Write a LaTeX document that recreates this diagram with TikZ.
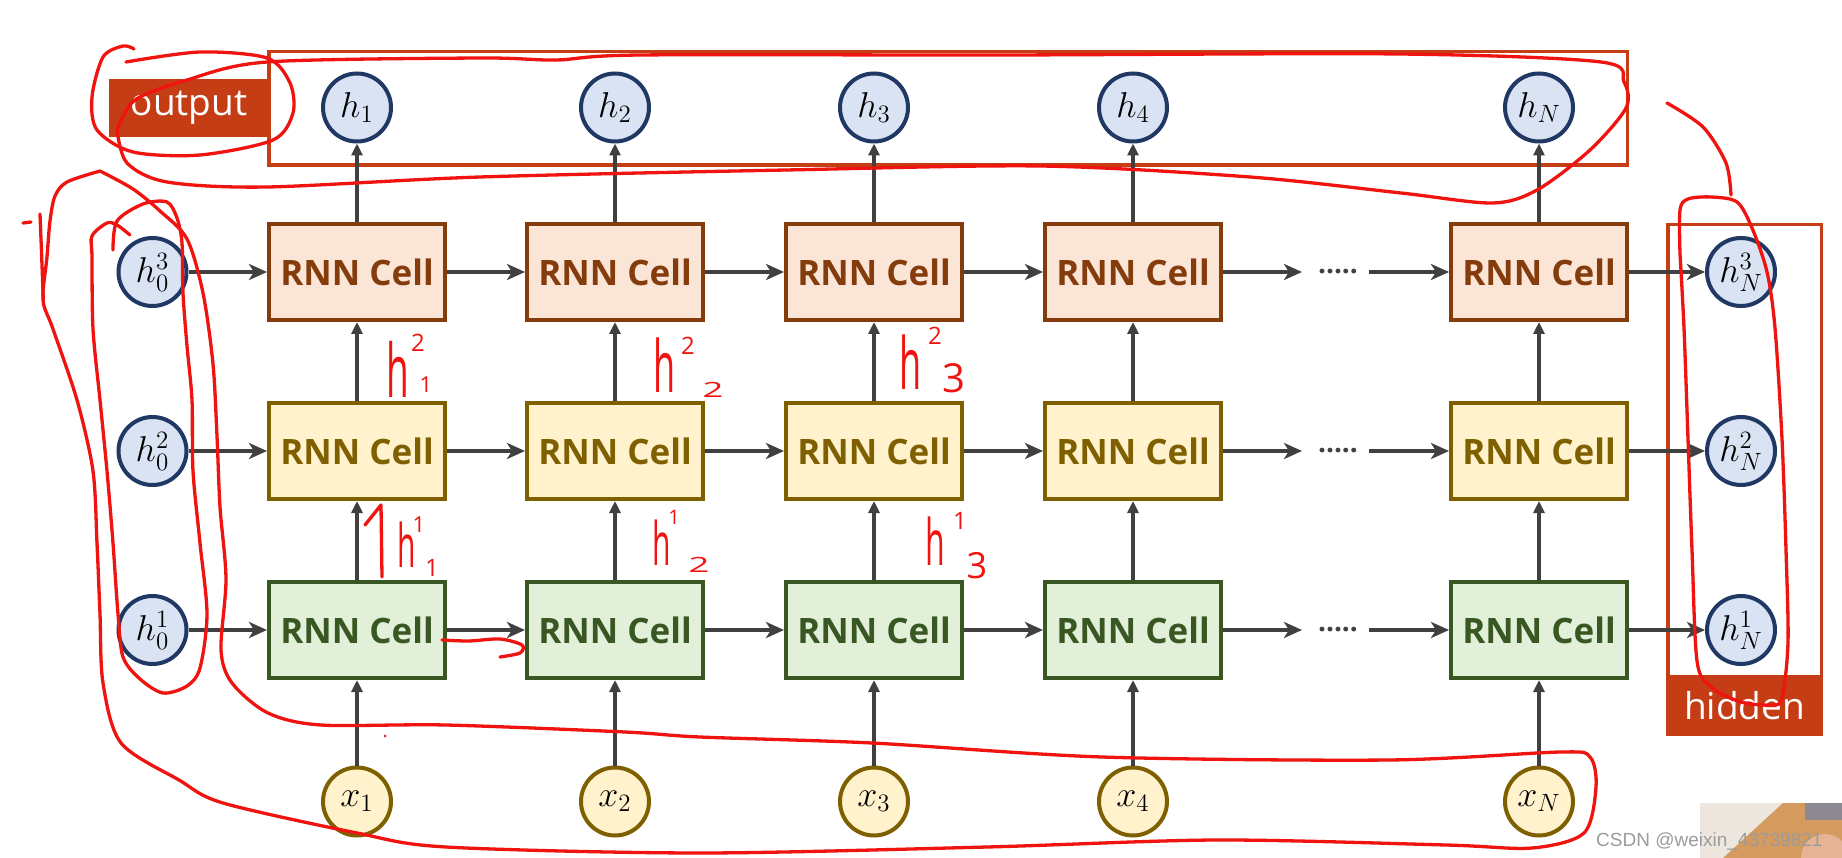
\documentclass[tikz,border=0pt]{standalone}
\usepackage{graphicx}
\usepackage{fontspec}
\setsansfont{Open Sans}
\newfontfamily\handfont{Open Sans}
\newfontfamily\wmfont{Liberation Sans}
\newcommand{\circlab}[1]{\scalebox{2.08}{\fontsize{17.28}{20}\selectfont$#1$}}
\usetikzlibrary{arrows.meta}
\definecolor{pinkfill}{HTML}{FBE5D6}
\definecolor{pinkdraw}{HTML}{843C0C}
\definecolor{yelfill}{HTML}{FFF2CC}
\definecolor{yeldraw}{HTML}{7F6000}
\definecolor{grnfill}{HTML}{E2F0D9}
\definecolor{grndraw}{HTML}{385723}
\definecolor{blufill}{HTML}{DAE3F3}
\definecolor{bludraw}{HTML}{203864}
\definecolor{arrowc}{HTML}{404040}
\definecolor{labelc}{HTML}{C43D15}
\definecolor{annot}{HTML}{F01410}
\definecolor{wmgray}{HTML}{9C9C9C}
\definecolor{photolight}{HTML}{ECE6DE}
\definecolor{phototan}{HTML}{D49A5E}
\definecolor{photodark}{HTML}{8C8A90}
\definecolor{photoskin}{HTML}{E6B494}
\begin{document}
\begin{tikzpicture}[x=1pt,y=-1pt,
  cell/.style={rectangle, minimum width=176pt, minimum height=96pt, line width=4pt,
    inner sep=0pt, font=\sffamily\bfseries\fontsize{35}{40}\selectfont},
  pinkcell/.style={cell, fill=pinkfill, draw=pinkdraw, text=pinkdraw},
  yelcell/.style={cell, fill=yelfill, draw=yeldraw, text=yeldraw},
  grncell/.style={cell, fill=grnfill, draw=grndraw, text=grndraw},
  hcirc/.style={circle, minimum size=68pt, inner sep=0pt, line width=4pt,
    fill=blufill, draw=bludraw},
  xcirc/.style={hcirc, fill=yelfill, draw=yeldraw},
  harr/.style={draw=arrowc, line width=4pt, -{Stealth[length=18pt,width=16pt,inset=5pt]}},
  varr/.style={draw=arrowc, line width=4pt, -{Triangle[length=12pt,width=11pt]}},
  framebox/.style={draw=labelc, line width=3.5pt, inner sep=0pt},
  labeltag/.style={fill=labelc, text=white, inner sep=0pt,
    font=\sffamily\fontsize{37}{40}\selectfont},
  dotsn/.style={text=arrowc, inner sep=0pt, font=\sffamily\bfseries\fontsize{28}{30}\selectfont},
  hw/.style={text=annot, inner sep=0pt, anchor=base},
  redline/.style={draw=annot, line width=3.3pt, line cap=round, line join=round}
]
\useasboundingbox (0,0) rectangle (1842,858);
\fill[white] (0,0) rectangle (1842,858);

% frames and tags
\node[framebox, minimum width=1358.5pt, minimum height=113.5pt] (outframe) at (948,108.5) {};
\node[labeltag, minimum width=160pt, minimum height=58pt] (outtag) at (189,108) {output};
\node[framebox, minimum width=153.5pt, minimum height=509.5pt] (hidframe) at (1744.5,479.5) {};
\node[labeltag, minimum width=157pt, minimum height=61pt] (hidtag) at (1744.5,705.5) {hidden};

% cells
\foreach \c/\x in {1/357,2/615,3/874,4/1133,5/1539} {
  \node[pinkcell] (p\c) at (\x,272) {RNN Cell};
  \node[yelcell] (y\c) at (\x,451) {RNN Cell};
  \node[grncell] (g\c) at (\x,630) {RNN Cell};
}

% top / bottom circles and vertical arrows
\foreach \c/\x/\l in {1/357/1,2/615/2,3/874/3,4/1133/4,5/1539/N} {
  \node[hcirc] (h\c) at (\x,107.5) {\circlab{h_{\l}}};
  \node[xcirc] (x\c) at (\x,801.5) {\circlab{x_{\l}}};
  \draw[varr] (x\c) -- (g\c);
  \draw[varr] (g\c) -- (y\c);
  \draw[varr] (y\c) -- (p\c);
  \draw[varr] (p\c) -- (h\c);
}

% side circles and horizontal arrows
\foreach \r/\y/\rn in {3/272/p,2/451/y,1/630/g} {
  \node[hcirc] (a\r) at (152.5,\y) {\circlab{h_0^{\r}}};
  \node[hcirc] (b\r) at (1741,\y) {\circlab{h_N^{\r}}};
  \coordinate (da\r) at (1302,\y);
  \node[dotsn] (dots\r) at (1338,\y) {.....};
  \coordinate (db\r) at (1369,\y);
  \draw[harr] (a\r) -- (\rn1);
  \draw[harr] (\rn1) -- (\rn2);
  \draw[harr] (\rn2) -- (\rn3);
  \draw[harr] (\rn3) -- (\rn4);
  \draw[harr] (\rn4) -- (da\r);
  \draw[harr] (db\r) -- (\rn5);
  \draw[harr] (\rn5) -- (b\r);
}

% photo corner and watermark
\fill[photolight] (1700,803) rectangle (1842,858);
\fill[phototan] (1723,858) -- (1783,803) -- (1842,803) -- (1842,858) -- cycle;
\fill[photodark] (1805,803) rectangle (1842,820);
\fill[photoskin] (1825,858) circle[radius=24pt];
\node[text=wmgray, inner sep=0pt, anchor=base west, font=\wmfont\fontsize{19}{22}\selectfont]
  (wm) at (1596,846) {CSDN @weixin\_43739821};

% red annotations: loops
\draw[redline] plot[smooth] coordinates {(126,62) (200,52) (267,58) (290,83) (293,113) (273,140)
  (200,155) (133,152) (97,130) (92,97) (103,57) (123,46) (134,49)};
\draw[redline] plot[smooth] coordinates {(117,130) (135,100) (187,80) (267,62) (480,58) (556,60)
  (640,55) (1000,55) (1400,54) (1601,62) (1624,82) (1626,108) (1590,150) (1537,190) (1492,203)
  (1401,193) (1250,177) (1041,166) (786,170) (480,177) (267,187) (167,182) (127,163) (117,130)};
\draw[redline] plot[smooth] coordinates {(113,250) (117,221) (143,204) (167,202) (177,218) (182,243)
  (183,293) (187,346) (192,400) (193,471) (200,543) (207,614) (200,668) (187,686) (163,693)
  (140,679) (123,657) (118,614) (113,543) (107,471) (100,400) (93,329) (92,257) (92,236)
  (107,223) (117,225) (130,235)};
\draw[redline] plot[smooth] coordinates {(100,171) (133,189) (160,211) (187,239) (203,293)
  (213,364) (217,436) (220,507) (226,579) (221,650) (232,683) (268,713) (321,725) (446,725)
  (625,732) (700,737) (872,743) (1102,757) (1389,760) (1561,752) (1590,757) (1596,787)
  (1584,833) (1532,848) (1446,845) (1217,840) (987,847) (700,853) (446,847) (357,833)
  (223,803) (179,780) (121,743) (103,683) (100,614) (97,543) (93,471) (77,400) (53,329)
  (43,300) (47,257) (50,221) (55,196) (67,182) (100,171)};
\draw[redline] plot[smooth] coordinates {(40,214) (41.7,257) (43.3,300)};
\draw[redline] (23,223) -- (31,222);
\draw[redline] plot[smooth] coordinates {(1680,254) (1680,210) (1688,199) (1711,197) (1737,202)
  (1752,228) (1767,272) (1775,328) (1782,439) (1786,550) (1788,642) (1782,698) (1771,705)
  (1741,702) (1711,687) (1697,661) (1692,550) (1688,439) (1684,328) (1680,254)};
\draw[redline] plot[smooth] coordinates {(1667,103) (1703,127) (1726,163) (1731,195)};
\draw[redline] plot[smooth] coordinates {(442,640) (469,641) (500,639) (522,645) (520,653) (500,657)};
\draw[redline] (365,525) -- (381,505) -- (382,577);
\fill[annot] (385,736) circle[radius=1.5pt];

% red handwritten labels
\node[hw, font=\handfont\fontsize{74}{74}\selectfont] (w1h) at (398,398) {\scalebox{0.5}[1]{h}};
\node[hw, font=\handfont\fontsize{24}{24}\selectfont] (w1s) at (418,352) {2};
\node[hw, font=\handfont\fontsize{22}{22}\selectfont] (w1b) at (426,392) {1};

\node[hw, font=\handfont\fontsize{60}{60}\selectfont] (w2h) at (407,567) {\scalebox{0.5}[1]{h}};
\node[hw, font=\handfont\fontsize{22}{22}\selectfont] (w2s) at (419,532) {1};
\node[hw, font=\handfont\fontsize{24}{24}\selectfont] (w2b) at (432,576) {1};

\node[hw, font=\handfont\fontsize{72}{72}\selectfont] (w3h) at (665,392) {\scalebox{0.5}[1]{h}};
\node[hw, font=\handfont\fontsize{24}{24}\selectfont] (w3s) at (688,355) {2};
\node[hw, font=\handfont\fontsize{28}{28}\selectfont] (w3b) at (713,398) {\scalebox{1.3}[0.75]{2}};

\node[hw, font=\handfont\fontsize{60}{60}\selectfont] (w4h) at (662,565) {\scalebox{0.5}[1]{h}};
\node[hw, font=\handfont\fontsize{20}{20}\selectfont] (w4s) at (674,524) {1};
\node[hw, font=\handfont\fontsize{28}{28}\selectfont] (w4b) at (699,572) {\scalebox{1.3}[0.75]{2}};

\node[hw, font=\handfont\fontsize{72}{72}\selectfont] (w5h) at (911,390) {\scalebox{0.5}[1]{h}};
\node[hw, font=\handfont\fontsize{24}{24}\selectfont] (w5s) at (935,345) {2};
\node[hw, font=\handfont\fontsize{40}{40}\selectfont] (w5b) at (954,392) {3};

\node[hw, font=\handfont\fontsize{64}{64}\selectfont] (w6h) at (935,565) {\scalebox{0.5}[1]{h}};
\node[hw, font=\handfont\fontsize{24}{24}\selectfont] (w6s) at (960,529) {1};
\node[hw, font=\handfont\fontsize{36}{36}\selectfont] (w6b) at (977,578) {3};
\end{tikzpicture}
\end{document}
